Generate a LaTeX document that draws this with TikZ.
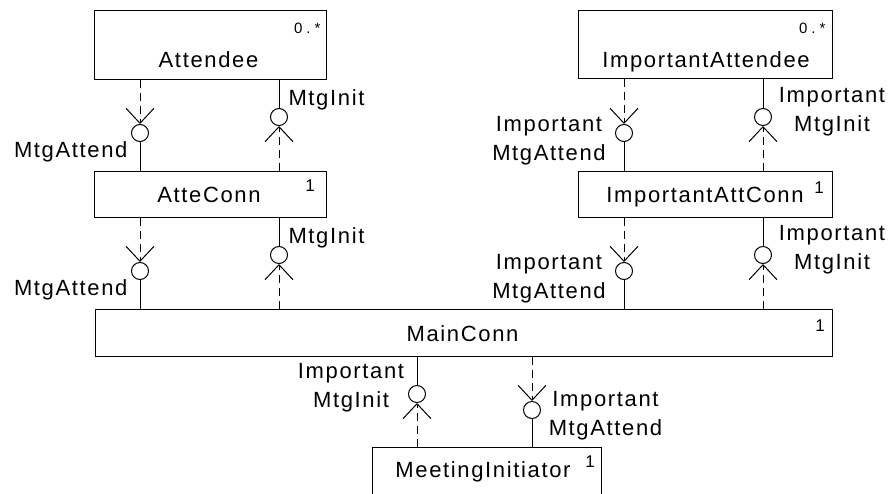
\documentclass[tikz,border=0pt]{standalone}
\usepackage{fontspec}
\newfontfamily\umlfont[LetterSpace=7.5]{Liberation Sans}
\newfontfamily\multfont{Liberation Sans}
\usetikzlibrary{arrows.meta}

\begin{document}
\begin{tikzpicture}[x=1pt, y=-1pt, line width=1pt,
  part/.style={rectangle, draw=black, inner sep=0pt},
  partname/.style={font=\umlfont\fontsize{22}{22}\selectfont, inner sep=0pt, anchor=base},
  mult/.style={font=\multfont\fontsize{15}{15}\selectfont, inner sep=0pt, anchor=base east},
  one/.style={font=\multfont\fontsize{17}{17}\selectfont, inner sep=0pt, anchor=base},
  role/.style={font=\umlfont\fontsize{22}{29}\selectfont, inner sep=0pt, align=center, anchor=north},
  ball/.style={circle, draw=black, fill=white, minimum size=17pt, inner sep=0pt},
  dep/.style={dash pattern=on 8pt off 5pt, -{Straight Barb[length=15pt, width=28pt]}}
]

% Frame
\useasboundingbox (0,0) rectangle (894,493);
\clip (0,0) rectangle (894,493);

% Parts
\node[part, minimum width=232pt, minimum height=69pt] (att) at (210,44.5) {};
\node[part, minimum width=232pt, minimum height=46pt] (attconn) at (210,194) {};
\node[part, minimum width=254pt, minimum height=68pt] (impatt) at (705,44) {};
\node[part, minimum width=254pt, minimum height=46pt] (impconn) at (705,194) {};
\node[part, minimum width=737pt, minimum height=47pt] (main) at (463.5,332.5) {};
\node[part, minimum width=229pt, minimum height=66pt] (init) at (486.5,480) {};

% Part names
\node[partname] (attname) at (208.5,67) {Attendee};
\node[partname] (attconnname) at (209,202) {AtteConn};
\node[partname] (impattname) at (706,67) {ImportantAttendee};
\node[partname] (impconnname) at (705,202) {ImportantAttConn};
\node[partname] (mainname) at (462.5,341) {MainConn};
\node[partname] (initname) at (483,477) {MeetingInitiator};

% Multiplicities
\node[mult] (attmult) at (321,33) {0\hspace{4pt}.\hspace{4pt}*};
\node[mult] (impattmult) at (826,33) {0\hspace{4pt}.\hspace{4pt}*};
\node[one] (attconnmult) at (310,191) {1};
\node[one] (impconnmult) at (819,193) {1};
\node[one] (mainmult) at (820,331) {1};
\node[one] (initmult) at (590,467) {1};

% Ports
\node[ball] (b1) at (140,133) {};
\node[ball] (b2) at (279,117) {};
\node[ball] (b3) at (624,133) {};
\node[ball] (b4) at (763,117) {};
\node[ball] (b5) at (140,271) {};
\node[ball] (b6) at (279,255) {};
\node[ball] (b7) at (624,271) {};
\node[ball] (b8) at (763,255) {};
\node[ball] (b9) at (417,394) {};
\node[ball] (b10) at (532,410) {};

% Connectors
\foreach \b/\up/\low in {b1/att/attconn, b3/impatt/impconn, b5/attconn/main, b7/impconn/main, b10/main/init} {
  \draw[dep] (\b |- \up.south) -- (\b.north);
  \draw (\b.south) -- (\b |- \low.north);
}
\foreach \b/\up/\low in {b2/att/attconn, b4/impatt/impconn, b6/attconn/main, b8/impconn/main, b9/main/init} {
  \draw (\b |- \up.south) -- (\b.north);
  \draw[dep] (\b |- \low.north) -- (\b.south);
}

% Role labels
\node[role, anchor=base east] (l1) at (128,157) {MtgAttend};
\node[role, anchor=base west] (l2) at (288,105) {MtgInit};
\node[role] (l3) at (549,116) {Important\\MtgAttend};
\node[role] (l4) at (832,87) {Important\\MtgInit};
\node[role, anchor=base east] (l5) at (128,295) {MtgAttend};
\node[role, anchor=base west] (l6) at (288,243) {MtgInit};
\node[role] (l7) at (549,254) {Important\\MtgAttend};
\node[role] (l8) at (832,225) {Important\\MtgInit};
\node[role] (l9) at (351,363) {Important\\MtgInit};
\node[role] (l10) at (605.5,391) {Important\\MtgAttend};

\end{tikzpicture}
\end{document}
